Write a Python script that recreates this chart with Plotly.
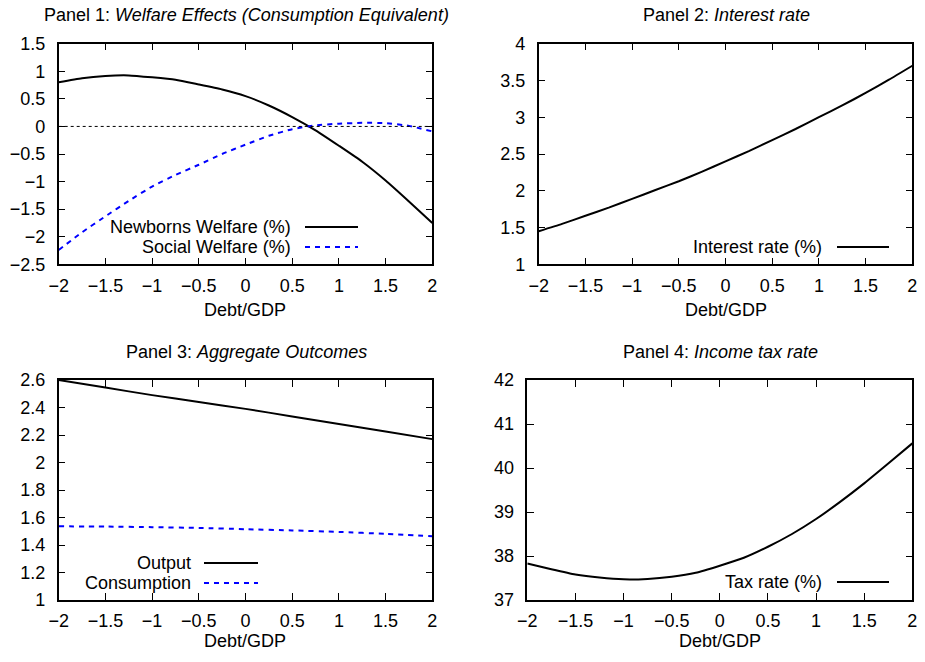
import plotly.graph_objects as go
from plotly.subplots import make_subplots

# ---------------- data ----------------
debt = [-2, -1.75, -1.5, -1.25, -1, -0.75, -0.5, -0.25, 0, 0.25, 0.5, 0.75, 1, 1.25, 1.5, 1.75, 2]
newborns_welfare = [0.80, 0.875, 0.915, 0.925, 0.89, 0.845, 0.76, 0.67, 0.55, 0.38, 0.17, -0.07, -0.35, -0.64, -0.98, -1.36, -1.75]
social_welfare = [-2.24, -1.92, -1.63, -1.35, -1.09, -0.88, -0.695, -0.50, -0.33, -0.17, -0.05, 0.02, 0.05, 0.065, 0.06, 0.01, -0.09]
interest_rate = [1.45, 1.55, 1.66, 1.77, 1.89, 2.01, 2.13, 2.26, 2.40, 2.54, 2.69, 2.84, 3.00, 3.16, 3.33, 3.51, 3.70]
tax_rate = [37.83, 37.70, 37.58, 37.51, 37.47, 37.48, 37.53, 37.62, 37.78, 37.96, 38.21, 38.50, 38.84, 39.23, 39.65, 40.10, 40.56]

debt_agg = [-2, -1.5, -1, -0.5, 0, 0.5, 1, 1.5, 2]
output = [2.60, 2.545, 2.49, 2.44, 2.39, 2.335, 2.28, 2.225, 2.17]
consumption = [1.536, 1.534, 1.530, 1.524, 1.515, 1.506, 1.495, 1.481, 1.463]

panel_titles = [
    "Panel 1: <i>Welfare Effects (Consumption Equivalent)</i>",
    "Panel 2: <i>Interest rate</i>",
    "Panel 3: <i>Aggregate Outcomes</i>",
    "Panel 4: <i>Income tax rate</i>",
]
x_title = "Debt/GDP"

# ---------------- layout helpers ----------------
W, H = 925, 662
FONT = "Liberation Sans, Arial, sans-serif"
FS = 18
BLUE = "#0000ff"


def fx(p):
    return p / W


def fy(p):
    return 1 - p / H


# plot frames in pixels: (left, right, top, bottom)
frames = {
    (1, 1): (58.7, 432.3, 43.7, 264.3),
    (1, 2): (538.7, 912.3, 43.7, 264.3),
    (2, 1): (58.7, 432.3, 380.0, 600.0),
    (2, 2): (527.3, 912.3, 380.0, 600.0),
}

fig = make_subplots(rows=2, cols=2)

line_black = dict(color="black", width=2, shape="spline", smoothing=0.5)
line_blue = dict(color=BLUE, width=2, dash="5px,5px", shape="spline", smoothing=0.5)

# Panel 1
fig.add_trace(go.Scatter(x=debt, y=newborns_welfare, mode="lines", line=line_black,
                         name="Newborns Welfare (%)", showlegend=False), row=1, col=1)
fig.add_trace(go.Scatter(x=debt, y=social_welfare, mode="lines", line=line_blue,
                         name="Social Welfare (%)", showlegend=False), row=1, col=1)
# Panel 2
fig.add_trace(go.Scatter(x=debt, y=interest_rate, mode="lines", line=line_black,
                         name="Interest rate (%)", showlegend=False), row=1, col=2)
# Panel 3
fig.add_trace(go.Scatter(x=debt_agg, y=output, mode="lines", line=line_black,
                         name="Output", showlegend=False), row=2, col=1)
fig.add_trace(go.Scatter(x=debt_agg, y=consumption, mode="lines", line=line_blue,
                         name="Consumption", showlegend=False), row=2, col=1)
# Panel 4
fig.add_trace(go.Scatter(x=debt, y=tax_rate, mode="lines", line=line_black,
                         name="Tax rate (%)", showlegend=False), row=2, col=2)

yranges = {(1, 1): ([-2.5, 1.5], 0.5), (1, 2): ([1, 4], 0.5),
           (2, 1): ([1, 2.6], 0.2), (2, 2): ([37, 42], 1)}

for (r, c), (l, rt, t, b) in frames.items():
    fig.update_xaxes(domain=[fx(l), fx(rt)], range=[-2, 2], tick0=0, dtick=0.5,
                     ticks="inside", ticklen=7, tickwidth=1, tickcolor="black",
                     mirror="allticks", showline=True, linecolor="black", linewidth=1.5,
                     showgrid=False, zeroline=False, ticklabelstandoff=4, automargin=False,
                     tickfont=dict(family=FONT, size=FS, color="black"), row=r, col=c)
    rng, dt = yranges[(r, c)]
    fig.update_yaxes(domain=[fy(b), fy(t)], range=rng, tick0=0, dtick=dt,
                     ticks="inside", ticklen=7, tickwidth=1, tickcolor="black",
                     mirror="allticks", showline=True, linecolor="black", linewidth=1.5,
                     showgrid=False, zeroline=False, ticklabelstandoff=8, automargin=False,
                     tickfont=dict(family=FONT, size=FS, color="black"), row=r, col=c)

# zero reference line in panel 1
fig.add_shape(type="line", xref="x domain", yref="y", x0=0, x1=1, y0=0, y1=0,
              line=dict(color="black", width=1, dash="dot"))

annotations = []
title_pos = [(246, 15), (726, 15), (246, 352), (720, 352)]
for txt, (cx, cy) in zip(panel_titles, title_pos):
    annotations.append(dict(text=txt, x=fx(cx), y=fy(cy), xref="paper", yref="paper",
                            xanchor="center", yanchor="middle", showarrow=False,
                            font=dict(family=FONT, size=FS, color="black")))
for cx, cy in [(245, 310), (726, 310), (245, 641), (720, 641)]:
    annotations.append(dict(text=x_title, x=fx(cx), y=fy(cy), xref="paper", yref="paper",
                            xanchor="center", yanchor="middle", showarrow=False,
                            font=dict(family=FONT, size=FS, color="black")))

# manual legends (text right-aligned, sample on the right)
legend_items = [
    ("Newborns Welfare (%)", 293, 305, 358, 227, "black", None),
    ("Social Welfare (%)", 293, 305, 358, 247, BLUE, "5px,5px"),
    ("Interest rate (%)", 824, 837, 889, 247, "black", None),
    ("Output", 193, 204, 258, 563, "black", None),
    ("Consumption", 193, 204, 258, 583, BLUE, "5px,5px"),
    ("Tax rate (%)", 824, 837, 889, 582, "black", None),
]
for txt, tx, sx0, sx1, yy, col, dash in legend_items:
    annotations.append(dict(text=txt, x=fx(tx), y=fy(yy), xref="paper", yref="paper",
                            xanchor="right", yanchor="middle", showarrow=False,
                            font=dict(family=FONT, size=FS, color="black")))
    ln = dict(color=col, width=2)
    if dash:
        ln["dash"] = dash
    fig.add_shape(type="line", xref="paper", yref="paper", x0=fx(sx0), x1=fx(sx1),
                  y0=fy(yy), y1=fy(yy), line=ln)

fig.update_layout(width=W, height=H, margin=dict(l=0, r=0, t=0, b=0),
                  paper_bgcolor="white", plot_bgcolor="white",
                  annotations=annotations, showlegend=False,
                  font=dict(family=FONT, size=FS, color="black"))

fig.write_html("out.html", config={"displayModeBar": False},
               post_script="document.body.style.margin='0';document.body.style.overflow='hidden';")
